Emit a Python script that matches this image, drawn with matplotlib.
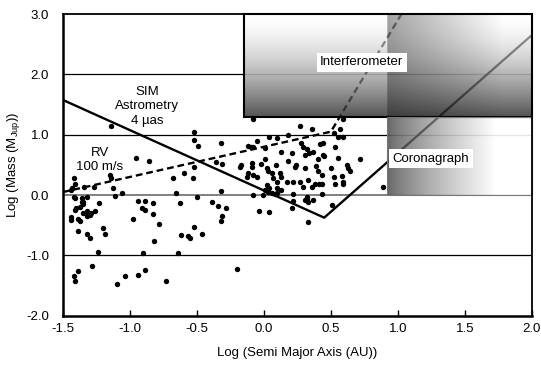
import numpy as np
import matplotlib
matplotlib.use('Agg')
import matplotlib.pyplot as plt
import matplotlib.patches as mpatches

plt.rcParams['font.family'] = ['Liberation Sans', 'DejaVu Sans']

# known planets: log semi major axis (AU), log mass (M_Jup)
log_a = [-1.435, -1.41, -1.42, -1.44, -1.34, -1.27,
         -1.42, -1.41, -1.36, -1.32, -1.35, -1.36, -1.35,
         -1.40, -1.37, -1.41, -1.44, -1.44, -1.39, -1.37,
         -1.35, -1.32, -1.30, -1.29, -1.32, -1.26, -1.23,
         -1.39, -1.32, -1.30, -1.20, -1.19, -1.24,
         -1.28, -1.39, -1.42, -1.41,
         -1.15, -1.14, -1.13, -1.06, -1.11, -1.14,
         -1.04, -1.10, -0.94, -0.89,
         -0.98, -0.94, -0.89, -0.91, -0.89, -0.83, -0.83, -0.78, -0.82, -0.90,
         -0.955, -0.86,
         -0.68, -0.60, -0.53, -0.52, -0.52, -0.52, -0.49, -0.32, -0.36, -0.31, -0.18,
         -0.66, -0.63, -0.50, -0.39, -0.34, -0.28, -0.31, -0.32, -0.32,
         -0.52, -0.62, -0.57, -0.55, -0.46, -0.64, -0.73, -0.20,
         -0.085, 0.27, 0.36, -0.055, 0.04, 0.10, 0.18,
         -0.10, -0.08, -0.12, 0.01, 0.13, 0.21, 0.28, 0.29, 0.32, 0.31, 0.34, 0.37,
         0.01, -0.17, -0.09, -0.09, -0.02, 0.02, 0.03, 0.06, 0.09, 0.18, 0.23, 0.24, 0.31,
         -0.12, -0.08, -0.13, -0.05, 0.07, 0.10, 0.12, 0.13, 0.17, 0.22, 0.27, 0.33,
         0.02, 0.04, 0.01, 0.03, 0.06, 0.08, 0.10, 0.13, 0.10,
         -0.08, -0.01, 0.22, 0.32, -0.04, 0.04, 0.22, 0.21, 0.31, 0.32, 0.33, 0.37,
         0.33, 0.51, 0.43,
         0.29, 0.36, 0.38, 0.41, 0.43, 0.53,
         0.59, 0.57, 0.52, 0.55, 0.59, 0.42, 0.44, 0.53, 0.44, 0.45, 0.40, 0.55, 0.72,
         0.39, 0.40, 0.50, 0.62, 0.63, 0.64, 0.43, 0.52, 0.58, 0.59, 0.59, 0.89]
log_m = [0.11, 0.18, 0.28, 0.09, 0.13, 0.13,
         -0.04, -0.05, -0.05, -0.04, -0.11, -0.12, -0.15,
         -0.22, -0.19, -0.25, -0.36, -0.41, -0.39, -0.43,
         -0.30, -0.34, -0.33, -0.30, -0.27, -0.27, -0.14,
         -0.60, -0.65, -0.71, -0.54, -0.64, -0.94,
         -1.18, -1.26, -1.34, -1.43,
         0.33, 0.28, 0.12, 0.04, -0.02, 1.15,
         -1.34, -1.48, -1.33, -1.24,
         -0.40, -0.10, -0.10, -0.21, -0.25, -0.14, -0.32, -0.48, -0.76, -0.96,
         0.62, 0.57,
         0.29, 0.37, 0.28, 0.47, 1.05, 0.91, 0.81, 0.87, 0.54, 0.52, 0.47,
         0.03, -0.14, -0.04, -0.11, -0.18, -0.21, -0.34, -0.43, 0.07,
         -0.53, -0.66, -0.68, -0.71, -0.64, -0.96, -1.42, -1.23,
         1.26, 1.15, 1.09, 0.90, 0.97, 0.95, 0.99,
         0.80, 0.79, 0.81, 0.78, 0.72, 0.70, 0.86, 0.80, 0.77, 0.66, 0.70, 0.72,
         0.60, 0.50, 0.53, 0.46, 0.52, 0.44, 0.40, 0.36, 0.50, 0.56, 0.47, 0.50, 0.45,
         0.36, 0.33, 0.30, 0.30, 0.28, 0.22, 0.36, 0.30, 0.22, 0.22, 0.22, 0.25,
         0.17, 0.11, 0.08, 0.05, 0.03, 0.01, 0.11, 0.08, 0.03,
         0.00, 0.00, 0.01, -0.03, -0.27, -0.28, -0.10, -0.21, -0.08, -0.05, -0.12, -0.08,
         -0.45, -0.17, 0.02,
         0.13, 0.13, 0.18, 0.19, 0.18, 0.19,
         1.26, 1.10, 1.02, 0.97, 0.97, 0.84, 0.86, 0.80, 0.66, 0.64, 0.60, 0.61, 0.60,
         0.48, 0.40, 0.45, 0.50, 0.44, 0.40, 0.33, 0.30, 0.32, 0.22, 0.18, 0.14]

# detection limits
sim_a = [-1.5, 0.45, 2.0]
sim_m = [1.575, -0.375, 2.65]
rv_a = [-1.5, 0.5, 1.027]
rv_m = [0.05, 1.05, 3.0]

# instrument regions [x0, x1, y0, y1]
interf_box = [-0.15, 2.0, 1.3, 3.0]
corona_box = [0.92, 2.0, 0.0, 1.3]

fig = plt.figure(figsize=(5.41, 3.65), dpi=100)
ax = fig.add_axes([0.1165, 0.135, 0.8665, 0.8266])

for yv in [-1.0, 1.0, 2.0]:
    ax.axhline(yv, color='black', lw=0.9, zorder=1)
ax.axhline(0.0, color='#808080', lw=1.4, zorder=1)

ax.scatter(log_a, log_m, s=15, color='black', linewidths=0, zorder=3)
ax.plot(sim_a, sim_m, color='black', lw=1.6, zorder=3)
ax.plot(rv_a, rv_m, color='black', lw=1.6, ls=(0, (3, 1.8)), zorder=3)

# interferometer gradient: white at top to dark at bottom, darker toward x=0.92 on the right
x0, x1, y0, y1 = interf_box
xs = np.linspace(x0, x1, 400)
ts = np.linspace(0, 1, 200)
v = 1 - 0.75 * (1 - ts) ** 1.6
s = np.clip((xs - corona_box[0]) / (x1 - corona_box[0]) / 0.8, 0, 1)
h = np.where(xs < corona_box[0], 1.0, 0.6 + 0.4 * s)
img = v[:, None] * h[None, :]
ax.imshow(img, extent=[x0, x1, y0, y1], origin='lower', cmap='gray',
          vmin=0, vmax=1, aspect='auto', alpha=0.9, zorder=4,
          interpolation='bilinear')

# coronagraph gradient: dark at left to white at right
cx0, cx1, cy0, cy1 = corona_box
cxs = np.linspace(cx0, cx1, 300)
cs = np.clip((cxs - cx0) / (cx1 - cx0) / 0.75, 0, 1)
cimg = np.tile(0.33 + 0.67 * cs ** 0.8, (10, 1))
ax.imshow(cimg, extent=[cx0, cx1, cy0, cy1], origin='lower', cmap='gray',
          vmin=0, vmax=1, aspect='auto', alpha=0.9, zorder=4,
          interpolation='bilinear')

# curves seen faintly through the boxes
ax.plot(sim_a, sim_m, color='black', lw=1.6, alpha=0.35, zorder=5)
ax.plot(rv_a, rv_m, color='black', lw=1.6, ls=(0, (3, 1.8)), alpha=0.35, zorder=5)

ax.add_patch(mpatches.Rectangle((x0, y0), x1 - x0, y1 - y0, fill=False,
                                edgecolor='black', lw=1.5, zorder=6, clip_on=False))
ax.add_patch(mpatches.Rectangle((cx0, cy0), cx1 - cx0, cy1 - cy0, fill=False,
                                edgecolor='#777777', lw=0.8, zorder=6, clip_on=False))

ax.text(-0.873, 1.47, 'SIM\nAstrometry\n4 µas', ha='center', va='center',
        fontsize=9.5, linespacing=1.25, zorder=7)
ax.text(-1.224, 0.58, 'RV\n100 m/s', ha='center', va='center',
        fontsize=9.5, linespacing=1.25, zorder=7)
ax.text(0.73, 2.2, 'Interferometer', ha='center', va='center', fontsize=9.5,
        zorder=7, bbox=dict(facecolor='white', edgecolor='none', pad=2.5))
ax.text(1.246, 0.6, 'Coronagraph', ha='center', va='center', fontsize=9.5,
        zorder=7, bbox=dict(facecolor='white', edgecolor='none', pad=2.5))

ax.set_xlim(-1.5, 2.0)
ax.set_ylim(-2.0, 3.0)
ax.set_xticks(np.arange(-1.5, 2.01, 0.5))
ax.set_yticks(np.arange(-2.0, 3.01, 1.0))
ax.set_xticklabels([f'{t:.1f}' for t in np.arange(-1.5, 2.01, 0.5)], fontsize=9.5)
ax.set_yticklabels([f'{t:.1f}' for t in np.arange(-2.0, 3.01, 1.0)], fontsize=9.5)
ax.tick_params(direction='in', length=4, width=1, pad=5)
ax.tick_params(axis='y', length=0, pad=10)
for sp in ['left', 'bottom']:
    ax.spines[sp].set_linewidth(1.8)
for sp in ['top', 'right']:
    ax.spines[sp].set_linewidth(1.3)
for sp in ax.spines.values():
    sp.set_zorder(8)

ax.set_xlabel('Log (Semi Major Axis (AU))', fontsize=9.5, labelpad=9)
ax.set_ylabel('Log (Mass (M$_{\\mathregular{Jup}}$))', fontsize=9.5, labelpad=3)

fig.savefig('out.png', dpi=100, facecolor='white')
